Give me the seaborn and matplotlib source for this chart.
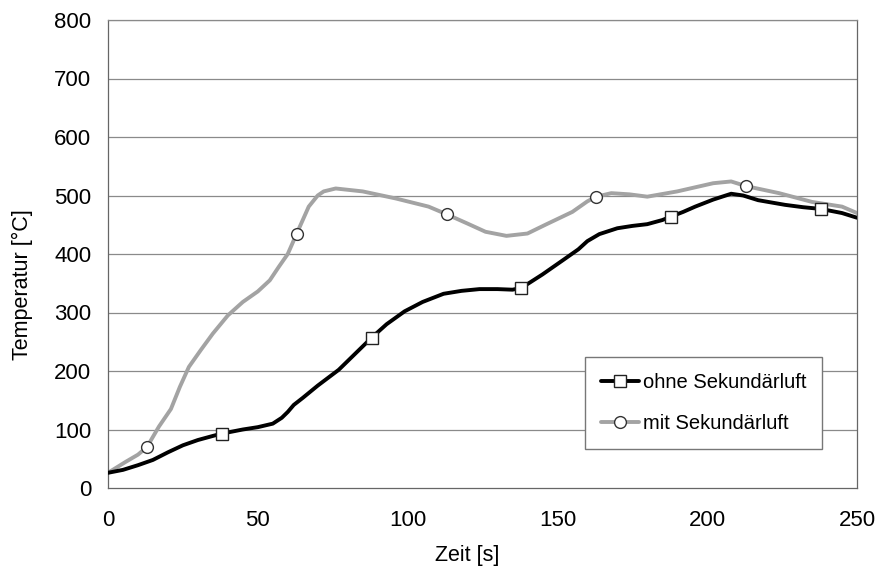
import matplotlib
matplotlib.use("Agg")
import matplotlib.pyplot as plt
import seaborn as sns
import pandas as pd

# --- data ---
t_ohne = [0, 5, 10, 15, 20, 25, 30, 35, 38, 40, 45, 50, 55, 58, 60, 62, 65, 70, 77, 83,
          88, 93, 99, 105, 112, 118, 124, 130, 135, 138, 145, 152, 157, 160, 164, 170,
          175, 180, 185, 188, 192, 196, 202, 208, 212, 217, 226, 232, 238, 245, 250]
temp_ohne = [26, 31, 39, 48, 61, 73, 82, 89, 93, 95, 100, 104, 110, 120, 130, 142, 154, 175, 202, 232,
             257, 280, 302, 318, 332, 337, 340, 340, 339, 342, 365, 390, 408, 422, 434, 444,
             448, 451, 458, 464, 472, 481, 493, 503, 500, 492, 484, 480, 477, 470, 462]
mark_ohne = [38, 88, 138, 188, 238]

t_mit = [0, 6, 10, 13, 17, 21, 24, 27, 31, 35, 40, 45, 50, 54, 57, 60, 63, 67, 70, 72,
         76, 85, 96, 107, 113, 120, 126, 133, 140, 146, 155, 160, 163, 168, 174, 180,
         190, 202, 208, 213, 224, 235, 245, 250]
temp_mit = [26, 45, 57, 70, 105, 135, 173, 207, 236, 264, 295, 318, 336, 355, 378, 400, 435, 481, 500, 507,
            512, 507, 495, 481, 468, 452, 438, 431, 435, 450, 472, 490, 498, 504, 502, 498,
            507, 521, 524, 516, 504, 489, 481, 470]
mark_mit = [13, 63, 113, 163, 213]

labels = ["ohne Sekundärluft", "mit Sekundärluft"]
x_ticks = [0, 50, 100, 150, 200, 250]
y_ticks = [0, 100, 200, 300, 400, 500, 600, 700, 800]
x_label = "Zeit [s]"
y_label = "Temperatur [°C]"

sns.set_style("white")
plt.rcParams["font.family"] = ["Liberation Sans", "DejaVu Sans"]
plt.rcParams["text.color"] = "black"
plt.rcParams["axes.labelcolor"] = "black"

fig = plt.figure(figsize=(8.77, 5.70), dpi=100)
ax = fig.add_axes([108 / 877, 1 - 488 / 570, 749 / 877, 468 / 570])

df_o = pd.DataFrame({"t": t_ohne, "T": temp_ohne})
df_m = pd.DataFrame({"t": t_mit, "T": temp_mit})

for yv in y_ticks[1:]:
    ax.axhline(yv, color="#8a8a8a", lw=0.9, zorder=0)

sns.lineplot(data=df_o, x="t", y="T", ax=ax, color="black", lw=2.8,
             marker="s", markevery=[t_ohne.index(m) for m in mark_ohne],
             markerfacecolor="white", markeredgecolor="#222222", markeredgewidth=1.0,
             markersize=8.5, label=labels[0], estimator=None, sort=False, zorder=3)
sns.lineplot(data=df_m, x="t", y="T", ax=ax, color="#a3a3a3", lw=2.8,
             marker="o", markevery=[t_mit.index(m) for m in mark_mit],
             markerfacecolor="white", markeredgecolor="#333333", markeredgewidth=1.0,
             markersize=8.5, label=labels[1], estimator=None, sort=False, zorder=2)

ax.set_xlim(0, 250)
ax.set_ylim(0, 800)
ax.set_xticks(x_ticks)
ax.set_yticks(y_ticks)
ax.tick_params(axis="both", which="major", direction="out", length=6, width=0.9,
               color="#555555", labelsize=16, labelcolor="black")
ax.tick_params(axis="y", pad=6)
ax.tick_params(axis="x", pad=10)

for s in ax.spines.values():
    s.set_color("#666666")
    s.set_linewidth(0.9)
ax.spines["top"].set_color("#8a8a8a")

ax.set_xlabel(x_label, fontsize=15.5, color="black")
ax.set_ylabel(y_label, fontsize=15.5, color="black")
ax.xaxis.set_label_coords(0.48, -0.122)
ax.yaxis.set_label_coords(-0.100, 0.434)

leg = ax.legend(loc="lower left", bbox_to_anchor=(0.637, 0.083), fontsize=14.5,
                frameon=True, fancybox=False, framealpha=1, edgecolor="#777777",
                handlelength=1.9, handletextpad=0.15, labelspacing=1.1,
                borderpad=0.8, borderaxespad=0)
leg.get_frame().set_linewidth(1.0)
for txt in leg.get_texts():
    txt.set_color("black")

fig.savefig("out.png", dpi=100)
